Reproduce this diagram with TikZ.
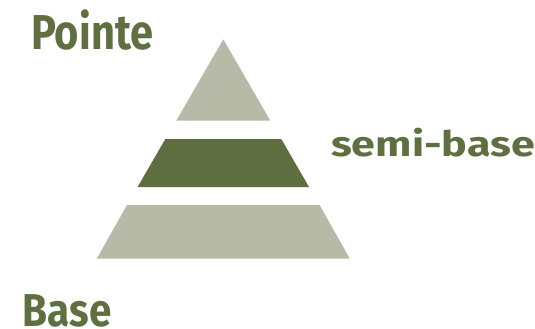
\documentclass[tikz,border=0pt]{standalone}
\usepackage{fontspec}
\setmainfont{Fira Sans}
\definecolor{light}{HTML}{B6BAA6}
\definecolor{dark}{HTML}{5F6E40}
\definecolor{txt}{HTML}{5F7040}
\begin{document}
\begin{tikzpicture}[x=1pt,y=-1pt,
  lbl/.style={inner sep=0pt,anchor=base west,text=txt,font=\bfseries}]
\useasboundingbox (0,0) rectangle (535,329);
\fill[light] (223.3,39.3) -- (270.3,120.7) -- (176.3,120.7) -- cycle;
\fill[dark] (165.3,139) -- (281.3,139) -- (309,187) -- (137.6,187) -- cycle;
\fill[light] (127,205) -- (319.6,205) -- (349.8,258.7) -- (96.8,258.7) -- cycle;
\node[lbl,font=\bfseries\fontsize{49}{49}\selectfont] (pointe) at (31,50) {\scalebox{0.85}[1]{Pointe}};
\node[lbl,font=\bfseries\fontsize{35}{35}\selectfont] (semi) at (331,156.7) {\scalebox{1.23}[1]{semi-base}};
\node[lbl,font=\bfseries\fontsize{46}{46}\selectfont] (base) at (22.7,326) {\scalebox{0.88}[1]{Base}};
\end{tikzpicture}
\end{document}
